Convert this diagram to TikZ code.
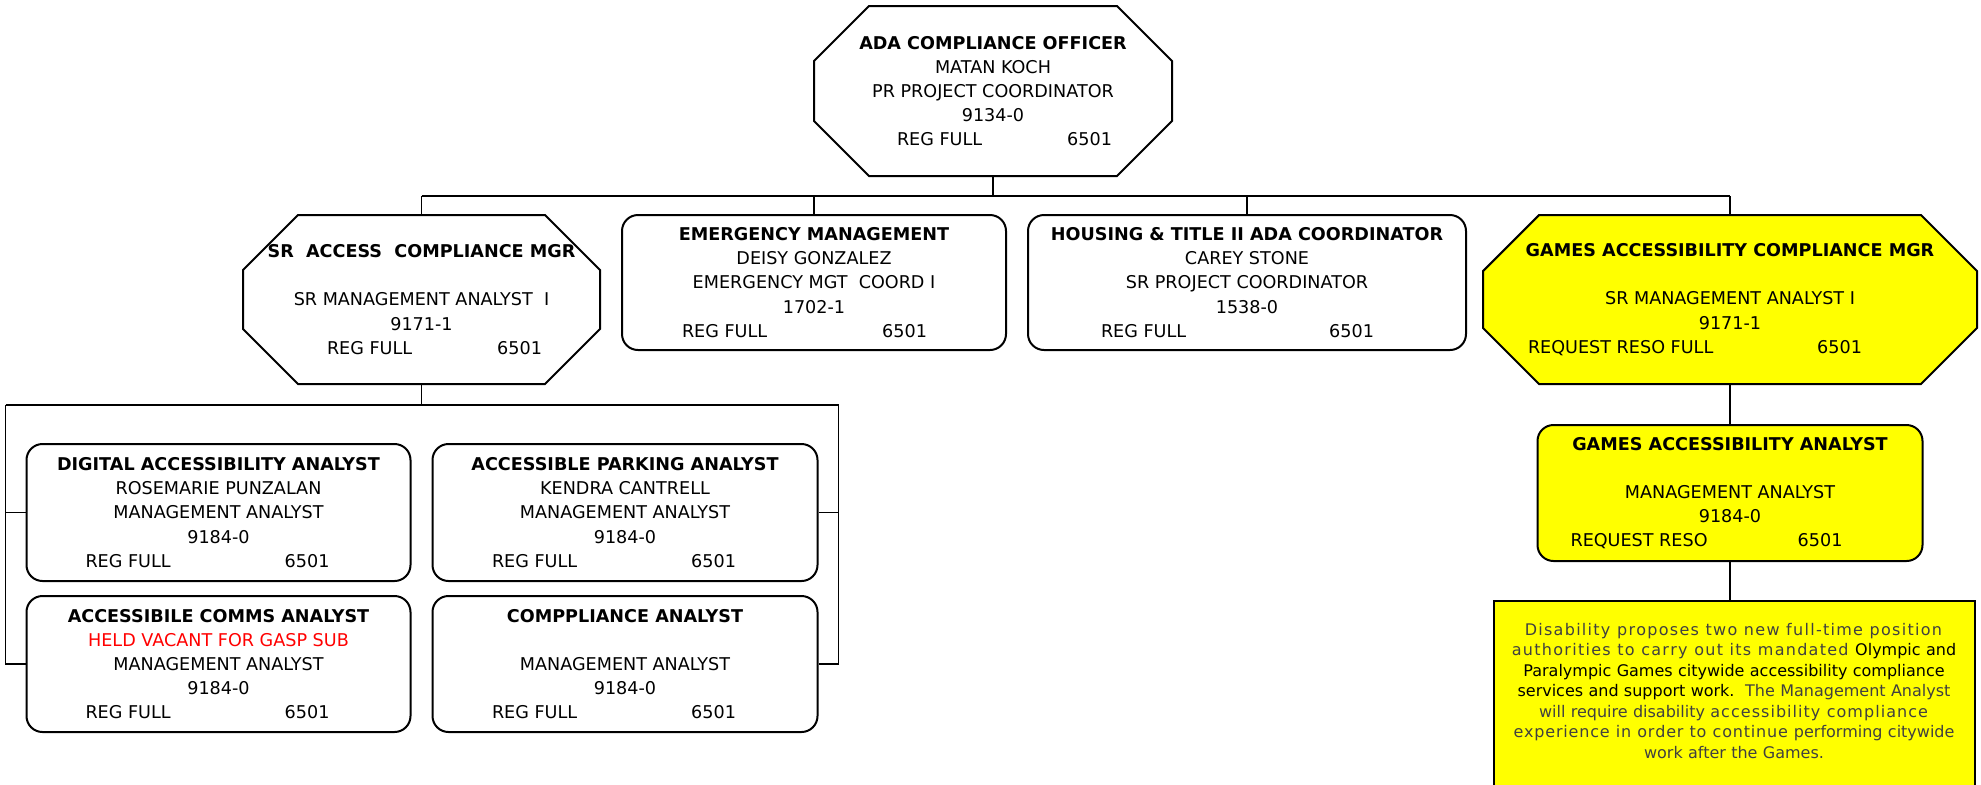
\documentclass[tikz,border=0pt]{standalone}
\usepackage{fontspec}
\setmainfont{DejaVu Sans}
\usepackage{tikz}
\usetikzlibrary{positioning,shapes.misc}
\usepackage{xcolor}
\definecolor{gameyellow}{HTML}{FFFF00}
\definecolor{vacantred}{HTML}{FF0000}
\definecolor{notegray}{HTML}{404040}

\newcommand{\payline}[4][0pt]{\hspace*{#1}\makebox[#2]{#3\hfill#4}\hspace*{-#1}}
% letter spaced words
\makeatletter
\newcommand{\lspaced}[2][0.07em]{\def\lsp@amount{#1}\lsp@words#2 \@nil}
\def\lsp@words#1 #2\@nil{\lsp@word{#1}\ifx\relax#2\relax\else\ \lsp@words#2\@nil\fi}
\def\lsp@word#1{\@tfor\lsp@ch:=#1\do{\lsp@ch\kern\lsp@amount}}
\makeatother

\begin{document}
\begin{tikzpicture}[
    x=0.5pt, y=-0.5pt,
    every node/.style={font=\fontsize{8.8pt}{12.1pt}\selectfont},
    octbox/.style={chamfered rectangle, chamfered rectangle xsep=21pt, chamfered rectangle ysep=21pt,
        draw, line width=1pt, align=center, inner xsep=-21pt, inner ysep=-21pt, minimum height=84.5pt},
    roundbox/.style={rectangle, rounded corners=8pt, draw, line width=1pt, align=center,
        inner sep=0pt, minimum height=67.5pt},
    conn/.style={line width=0.9pt},
    notebox/.style={draw, line width=1pt, fill=gameyellow, align=center, text width=235pt,
        inner sep=0pt, minimum height=100pt, font=\fontsize{8pt}{10.25pt}\selectfont, text=notegray},
]
\useasboundingbox (0,0) rectangle (1981,784);

% Head
\node[octbox, minimum width=179pt, minimum height=85pt] (officer) at (993,91) {
    \textbf{ADA COMPLIANCE OFFICER}\\
    MATAN KOCH\\
    PR PROJECT COORDINATOR\\
    9134-0\\
    \payline[5.75pt]{107.5pt}{REG FULL}{6501}
};

% Second row
\node[octbox, minimum width=178.5pt] (srmgr) at (421.5,299.5) {
    \textbf{SR~ ACCESS~ COMPLIANCE MGR}\\
    \mbox{}\\
    SR MANAGEMENT ANALYST~ I\\
    9171-1\\
    \payline[6.5pt]{107.5pt}{REG FULL}{6501}
};

\node[roundbox, minimum width=192pt, anchor=north west, xshift=10pt] (emergency) at (srmgr.north -| srmgr.east) {
    \textbf{EMERGENCY MANAGEMENT}\\
    DEISY GONZALEZ\\
    EMERGENCY MGT~ COORD I\\
    1702-1\\
    \payline[-4.75pt]{122.5pt}{REG FULL}{6501}
};

\node[roundbox, minimum width=219pt, right=10pt of emergency.north east, anchor=north west] (housing) {
    \textbf{HOUSING \& TITLE II ADA COORDINATOR}\\
    CAREY STONE\\
    SR PROJECT COORDINATOR\\
    1538-0\\
    \payline[-4.75pt]{136.5pt}{REG FULL}{6501}
};

\node[octbox, minimum width=247pt, fill=gameyellow, anchor=west, xshift=7.5pt] (gamesmgr) at (housing.east |- srmgr.east) {
    \textbf{GAMES ACCESSIBILITY COMPLIANCE MGR}\\
    \mbox{}\\
    SR MANAGEMENT ANALYST I\\
    9171-1\\
    \payline[-17.5pt]{167pt}{REQUEST RESO FULL}{6501}
};

% Third row under the access manager
\node[roundbox, minimum width=192pt, minimum height=68.5pt, below left=29pt and 5pt of srmgr.south] (digital) {
    \textbf{DIGITAL ACCESSIBILITY ANALYST}\\
    ROSEMARIE PUNZALAN\\
    MANAGEMENT ANALYST\\
    9184-0\\
    \payline[-5.5pt]{122pt}{REG FULL}{6501}
};

\node[roundbox, minimum width=192.5pt, minimum height=68.5pt, right=10pt of digital] (parking) {
    \textbf{ACCESSIBLE PARKING ANALYST}\\
    KENDRA CANTRELL\\
    MANAGEMENT ANALYST\\
    9184-0\\
    \payline[-5.5pt]{122pt}{REG FULL}{6501}
};

\node[roundbox, minimum width=192pt, minimum height=68pt, below=6.5pt of digital] (comms) {
    \textbf{ACCESSIBILE COMMS ANALYST}\\
    \textcolor{vacantred}{HELD VACANT FOR GASP SUB}\\
    MANAGEMENT ANALYST\\
    9184-0\\
    \payline[-5.5pt]{122pt}{REG FULL}{6501}
};

\node[roundbox, minimum width=192.5pt, minimum height=68pt, below=6.5pt of parking] (compliance) {
    \textbf{COMPPLIANCE ANALYST}\\
    \mbox{}\\
    MANAGEMENT ANALYST\\
    9184-0\\
    \payline[-5.5pt]{122pt}{REG FULL}{6501}
};

% Games column
\node[roundbox, minimum width=192.5pt, minimum height=68pt, fill=gameyellow, below=19.5pt of gamesmgr] (analyst) {
    \textbf{GAMES ACCESSIBILITY ANALYST}\\
    \mbox{}\\
    MANAGEMENT ANALYST\\
    9184-0\\
    \payline[-11.75pt]{136pt}{REQUEST RESO}{6501}
};

\node[notebox, minimum width=240.5pt, below=19pt of analyst, xshift=2pt] (note) {
    \lspaced[0.08em]{Disability proposes two new full-time position}\\
    \lspaced[0.08em]{authorities to carry out its mandated} {\color{black}Olympic and}\\
    {\color{black}Paralympic Games citywide accessibility compliance}\\
    {\color{black}services and support work.}\ \ The Management Analyst\\
    will require disability \lspaced[0.065em]{accessibility compliance}\\
    \lspaced[0.05em]{experience in order to continue} performing citywide\\
    work after the Games.\\
    \mbox{}
};

% Connectors
\coordinate[below=9.5pt of officer.south] (topbus);
\draw[conn] (officer.south) -- (topbus);
\draw[conn] (topbus -| srmgr.north) -- (topbus -| gamesmgr.north);
\foreach \pos in {srmgr,emergency,housing,gamesmgr}
    \draw[conn] (topbus -| \pos.north) -- (\pos.north);

\coordinate[below=10pt of srmgr.south] (subbus);
\coordinate[left=10pt of digital.west] (leftrail);
\coordinate[right=10pt of parking.east] (rightrail);
\draw[conn] (srmgr.south) -- (subbus);
\draw[conn] (subbus -| leftrail) -- (subbus -| rightrail);
\draw[conn] (subbus -| leftrail) |- (comms.west);
\draw[conn] (leftrail) -- (digital.west);
\draw[conn] (subbus -| rightrail) |- (compliance.east);
\draw[conn] (rightrail) -- (parking.east);

\draw[conn] (gamesmgr.south) -- (analyst.north);
\draw[conn] (analyst.south) -- (analyst.south |- note.north);

\end{tikzpicture}
\end{document}
